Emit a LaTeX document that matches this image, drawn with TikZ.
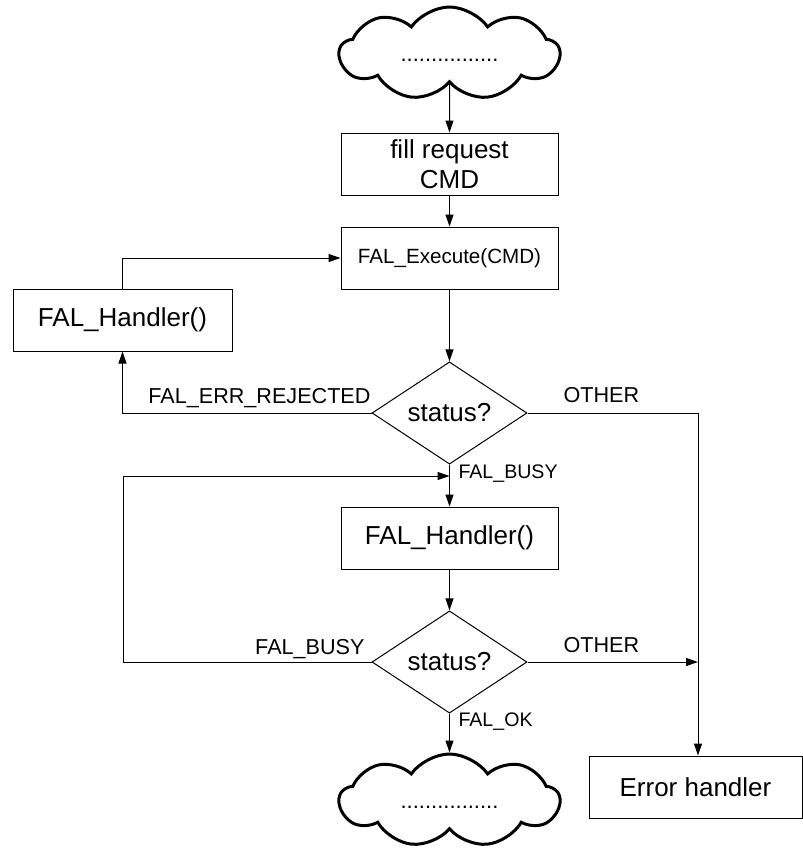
\documentclass[tikz,border=0pt]{standalone}
\usepackage{fontspec}
\setmainfont{Liberation Sans}
\usetikzlibrary{shapes.geometric,shapes.symbols,arrows.meta}

\begin{document}
\begin{tikzpicture}[x=0.5pt, y=-0.5pt, line width=0.5pt,
  box/.style={draw, rectangle, minimum width=108.5pt, minimum height=31pt, inner sep=0pt, align=center, font=\fontsize{13}{15}\selectfont},
  puff/.style={draw, cloud, cloud puffs=9, cloud puff arc=110, aspect=2.4, line width=1.5pt, minimum width=110pt, minimum height=46.5pt, inner sep=0pt, text height=8pt, text depth=0pt, font=\fontsize{11}{13}\selectfont},
  query/.style={draw, diamond, minimum width=77.5pt, minimum height=46pt, inner sep=0pt, font=\fontsize{13}{15}\selectfont},
  tag/.style={inner sep=0pt, font=\fontsize{10.8}{13}\selectfont},
  >={Triangle[length=6pt, width=4pt]}]
\useasboundingbox (0,0) rectangle (803,848);
\node[puff] (start) at (449.5,53.5) {................};
\node[box] (fill) at (449.5,164) {fill request\\CMD};
\node[box, font=\fontsize{10.3}{12}\selectfont] (exec) at (449.5,258) {FAL\_Execute(CMD)};
\node[box, minimum width=109.5pt] (retry) at (122.5,320) {FAL\_Handler()};
\node[query] (check) at (449.5,413) {status?};
\node[box] (poll) at (449.5,538) {FAL\_Handler()};
\node[query] (recheck) at (449.5,662) {status?};
\node[puff] (done) at (449.5,800.5) {................};
\node[box, minimum width=106.5pt] (error) at (695.5,787) {Error handler};
\coordinate (join) at (698,413);
\coordinate (back) at (123,476);
\draw[->] (start) -- (fill);
\draw[->] (fill) -- (exec);
\draw[->] (exec) -- (check);
\draw[->] (retry.north) |- (exec.west);
\draw[->] (check.west) -| (retry.south);
\draw[->] (check) -- (poll);
\draw[->] (poll) -- (recheck);
\draw[->] (recheck) -- (done);
\draw[->] (check.east) -- (join) -- (join |- error.north);
\draw[->] (recheck.east) -- (recheck.east -| join);
\draw[->] (recheck.west) -| (back) -- (back -| check);
\node[tag, anchor=base east] (rejected) at (371,403) {FAL\_ERR\_REJECTED};
\node[tag, anchor=base west] (other1) at (563,402) {OTHER};
\node[tag, anchor=base west, font=\fontsize{9.8}{12}\selectfont] (busy1) at (458,478) {FAL\_BUSY};
\node[tag, anchor=base east] (busy2) at (365,654) {FAL\_BUSY};
\node[tag, anchor=base west] (other2) at (563,652) {OTHER};
\node[tag, anchor=base west, font=\fontsize{9.8}{12}\selectfont] (ok) at (458,726) {FAL\_OK};
\end{tikzpicture}
\end{document}
